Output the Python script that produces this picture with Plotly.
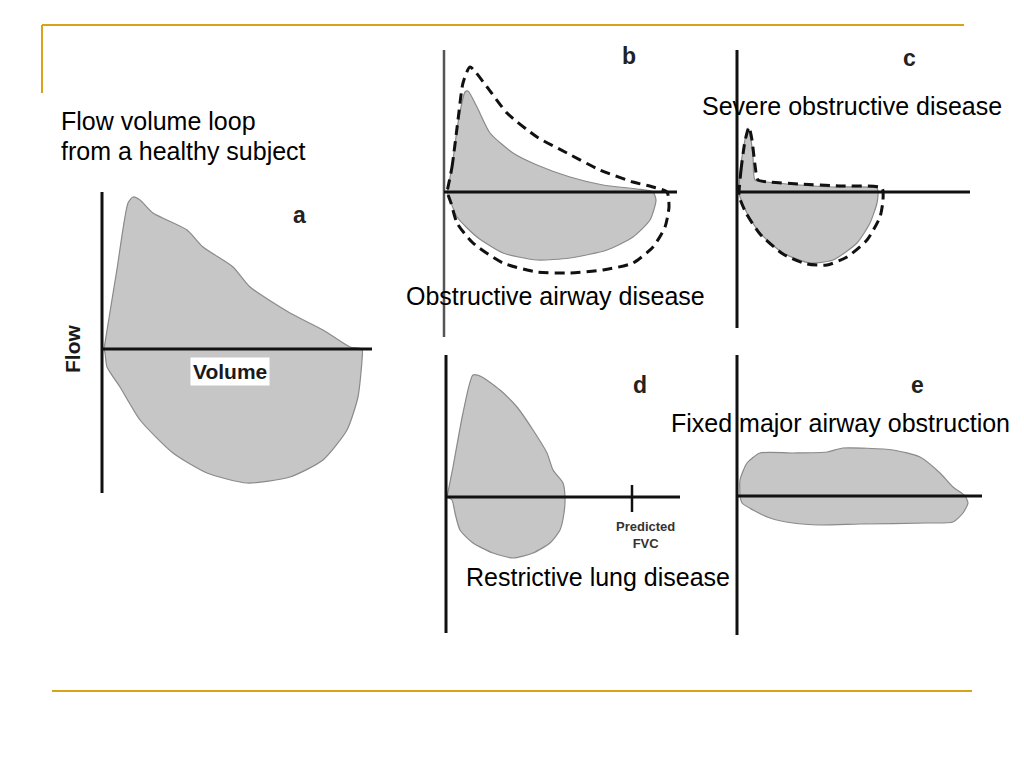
import plotly.graph_objects as go

W, H = 1024, 768
VOL_PX, FLOW_PX = 50.0, 20.0   # pixels per litre, pixels per L/s

# ---------------- data (volume in L, flow in L/s; expiration positive) -------------
# a: healthy subject
A_VOL = [0.04, 0.30, 0.52, 0.62, 0.76, 1.02, 1.70, 2.02, 2.62, 2.96, 3.76, 4.42, 4.96, 5.20,
         5.20, 5.12, 4.90, 4.42, 3.76, 2.90, 2.10, 1.42, 0.76, 0.36, 0.10, 0.06, 0.04]
A_FLOW = [0.0, 4.0, 7.3, 7.6, 7.45, 6.8, 5.95, 5.1, 4.1, 3.1, 1.8, 0.95, 0.1, 0.0,
          -0.55, -2.4, -4.05, -5.55, -6.4, -6.7, -6.2, -5.2, -3.55, -1.9, -0.9, -0.2, 0.0]
A_AXIS_VOL = [0.0, 5.4]
A_AXIS_FLOW = [-7.2, 7.85]

# b: obstructive airway disease (measured) and predicted (dashed)
B_VOL = [0.06, 0.16, 0.28, 0.42, 0.48, 0.66, 0.92, 1.38, 1.86, 2.52, 3.18, 3.86, 4.18,
         4.24, 4.12, 3.78, 3.26, 2.52, 1.86, 1.18, 0.66, 0.26, 0.12, 0.06]
B_FLOW = [0.0, 1.25, 3.45, 5.0, 5.05, 4.25, 2.95, 1.95, 1.35, 0.75, 0.35, 0.15, 0.0,
          -0.4, -1.4, -2.25, -2.9, -3.3, -3.4, -3.05, -2.25, -1.25, -0.4, 0.0]
B_PRED_VOL = [0.06, 0.16, 0.28, 0.38, 0.52, 0.86, 1.26, 1.86, 2.46, 3.12, 3.78, 4.18, 4.46,
              4.50, 4.42, 4.18, 3.78, 3.18, 2.52, 1.86, 1.18, 0.58, 0.26, 0.14, 0.06]
B_PRED_FLOW = [0.0, 1.25, 3.6, 5.45, 6.25, 5.25, 3.95, 2.75, 1.95, 1.1, 0.5, 0.25, 0.0,
               -0.75, -1.75, -2.75, -3.55, -3.9, -4.05, -4.0, -3.55, -2.55, -1.55, -0.55, 0.0]
B_AXIS_VOL = [0.0, 4.66]
B_AXIS_FLOW = [-7.25, 7.1]

# c: severe obstructive disease
C_VOL = [0.04, 0.06, 0.14, 0.22, 0.28, 0.32, 0.36, 0.60, 1.26, 1.92, 2.80, 2.82,
         2.80, 2.66, 2.40, 1.92, 1.46, 0.92, 0.46, 0.20, 0.06, 0.04]
C_FLOW = [0.0, 0.95, 2.35, 3.2, 2.6, 1.75, 0.6, 0.5, 0.35, 0.25, 0.2, 0.0,
          -0.55, -1.55, -2.55, -3.4, -3.55, -3.05, -2.05, -1.05, -0.25, 0.0]
C_PRED_VOL = [0.04, 0.08, 0.16, 0.24, 0.30, 0.36, 0.42, 0.66, 1.26, 2.06, 2.90,
              2.92, 2.86, 2.60, 2.20, 1.80, 1.40, 0.92, 0.46, 0.18, 0.04]
C_PRED_FLOW = [0.0, 1.1, 2.55, 3.25, 2.6, 1.35, 0.6, 0.5, 0.4, 0.3, 0.2,
               -0.4, -1.25, -2.4, -3.25, -3.65, -3.6, -3.1, -2.1, -1.05, -0.2]
C_AXIS_VOL = [0.0, 4.66]
C_AXIS_FLOW = [-6.8, 7.1]

# d: restrictive lung disease
D_VOL = [0.02, 0.14, 0.34, 0.54, 0.72, 1.08, 1.42, 1.74, 2.02, 2.14, 2.34, 2.38,
         2.36, 2.28, 2.08, 1.74, 1.34, 0.94, 0.54, 0.28, 0.18, 0.12, 0.02]
D_FLOW = [0.0, 1.5, 4.2, 6.1, 6.0, 5.35, 4.5, 3.35, 2.2, 1.35, 0.7, 0.0,
          -0.8, -1.65, -2.3, -2.8, -3.05, -2.8, -2.3, -1.65, -0.8, -0.15, 0.0]
D_AXIS_VOL = [0.0, 4.68]
D_AXIS_FLOW = [-6.8, 7.1]
D_PREDICTED_FVC = 3.72
D_TICK_FLOW = [-0.75, 0.6]

# e: fixed major airway obstruction
E_VOL = [0.06, 0.06, 0.20, 0.46, 1.12, 1.80, 2.12, 3.12, 3.66, 4.06, 4.32, 4.56,
         4.62, 4.52, 4.32, 3.80, 2.46, 1.66, 1.12, 0.66, 0.32, 0.10, 0.06]
E_FLOW = [0.0, 0.8, 1.65, 2.15, 2.15, 2.2, 2.4, 2.3, 1.95, 1.15, 0.45, 0.0,
          -0.35, -0.85, -1.3, -1.35, -1.4, -1.45, -1.35, -1.1, -0.7, -0.35, 0.0]
E_AXIS_VOL = [0.0, 4.9]
E_AXIS_FLOW = [-6.95, 7.05]

# ---------------- layout geometry (pixels) ----------------
PANELS = [
    # key, origin(px), box(x0, x1, y0, y1)
    ("a", (102, 349), (40, 400, 180, 510)),
    ("b", (444, 192), (425, 700, 40, 345)),
    ("c", (737, 192), (718, 1010, 40, 340)),
    ("d", (446, 497), (425, 700, 345, 645)),
    ("e", (737, 496), (718, 1010, 345, 645)),
]

FILL = "#c6c6c6"
EDGE = "#8a8a8a"
SMOOTH = 0.6

fig = go.Figure()
layout = dict(width=W, height=H, margin=dict(l=0, r=0, t=0, b=0),
              paper_bgcolor="white", plot_bgcolor="rgba(0,0,0,0)",
              showlegend=False, hovermode=False)

axref = {}
for i, (key, (ox, oy), (x0, x1, y0, y1)) in enumerate(PANELS, start=1):
    sfx = "" if i == 1 else str(i)
    layout["xaxis" + sfx] = dict(domain=[x0 / W, x1 / W],
                                 range=[(x0 - ox) / VOL_PX, (x1 - ox) / VOL_PX],
                                 visible=False, fixedrange=True,
                                 anchor="y" + sfx)
    layout["yaxis" + sfx] = dict(domain=[1 - y1 / H, 1 - y0 / H],
                                 range=[(oy - y1) / FLOW_PX, (oy - y0) / FLOW_PX],
                                 visible=False, fixedrange=True,
                                 anchor="x" + sfx)
    axref[key] = ("x" + sfx, "y" + sfx)


def loop(key, v, f):
    xa, ya = axref[key]
    fig.add_trace(go.Scatter(x=v + [v[0]], y=f + [f[0]], mode="lines", fill="toself",
                             fillcolor=FILL,
                             line=dict(color=EDGE, width=1.2, shape="spline", smoothing=SMOOTH),
                             xaxis=xa, yaxis=ya))


def dashed(key, v, f):
    xa, ya = axref[key]
    fig.add_trace(go.Scatter(x=v + [v[0]], y=f + [f[0]], mode="lines",
                             line=dict(color="#111111", width=3, dash="10px,6px",
                                       shape="spline", smoothing=SMOOTH),
                             xaxis=xa, yaxis=ya))


def frame(key, vrange, frange, vcolor="#111111", vwidth=3):
    xa, ya = axref[key]
    fig.add_trace(go.Scatter(x=[0, 0], y=frange, mode="lines",
                             line=dict(color=vcolor, width=vwidth), xaxis=xa, yaxis=ya))
    fig.add_trace(go.Scatter(x=vrange, y=[0, 0], mode="lines",
                             line=dict(color="#111111", width=3), xaxis=xa, yaxis=ya))


loop("a", A_VOL, A_FLOW)
frame("a", A_AXIS_VOL, A_AXIS_FLOW)

loop("b", B_VOL, B_FLOW)
frame("b", B_AXIS_VOL, B_AXIS_FLOW, vcolor="#555555", vwidth=2.5)
dashed("b", B_PRED_VOL, B_PRED_FLOW)

loop("c", C_VOL, C_FLOW)
frame("c", C_AXIS_VOL, C_AXIS_FLOW)
dashed("c", C_PRED_VOL, C_PRED_FLOW)

loop("d", D_VOL, D_FLOW)
frame("d", D_AXIS_VOL, D_AXIS_FLOW)
xa, ya = axref["d"]
fig.add_trace(go.Scatter(x=[D_PREDICTED_FVC, D_PREDICTED_FVC], y=D_TICK_FLOW, mode="lines",
                         line=dict(color="#111111", width=2.5), xaxis=xa, yaxis=ya))

loop("e", E_VOL, E_FLOW)
frame("e", E_AXIS_VOL, E_AXIS_FLOW)


# ---------------- texts ----------------
def px(x, y):
    return x / W, 1 - y / H


annots = []


def text(t, x, y, size, bold=False, color="#111111", xanchor="center", angle=0, bg=None,
         family="Liberation Sans, Arial, sans-serif"):
    X, Y = px(x, y)
    d = dict(text=("<b>%s</b>" % t) if bold else t, x=X, y=Y, xref="paper", yref="paper",
             showarrow=False, xanchor=xanchor, yanchor="middle", textangle=angle,
             font=dict(size=size, color=color, family=family))
    if bg:
        d.update(bgcolor=bg, borderpad=2)
    annots.append(d)


text("Flow volume loop", 59, 121, 25, xanchor="left", color="#000000")
text("from a healthy subject", 59, 151, 25, xanchor="left", color="#000000")
text("Obstructive airway disease", 555, 296, 25, color="#000000")
text("Severe obstructive disease", 852, 106, 25, color="#000000")
text("Restrictive lung disease", 598, 577, 25, color="#000000")
text("Fixed major airway obstruction", 840, 423, 25, color="#000000")

text("a", 299, 215, 23, bold=True, color="#222222")
text("b", 629, 56, 23, bold=True, color="#222222")
text("c", 909, 58, 23, bold=True, color="#222222")
text("d", 640, 385, 23, bold=True, color="#222222")
text("e", 917, 385, 23, bold=True, color="#222222")

text("Flow", 73, 349, 21, bold=True, angle=-90, color="#1a1a1a")
text("Volume", 230, 371, 21, bold=True, bg="white", color="#1a1a1a")
text("Predicted<br>FVC", 645, 535, 13, bold=True, color="#333333")

layout["annotations"] = annots

GOLD = "#D8A31A"
layout["shapes"] = [
    dict(type="line", xref="paper", yref="paper", x0=42 / W, x1=964 / W,
         y0=1 - 25 / H, y1=1 - 25 / H, line=dict(color=GOLD, width=2)),
    dict(type="line", xref="paper", yref="paper", x0=42 / W, x1=42 / W,
         y0=1 - 25 / H, y1=1 - 93 / H, line=dict(color=GOLD, width=2)),
    dict(type="line", xref="paper", yref="paper", x0=52 / W, x1=972 / W,
         y0=1 - 691 / H, y1=1 - 691 / H, line=dict(color=GOLD, width=2)),
]

fig.update_layout(**layout)
fig.write_html("out.html", config={"displayModeBar": False, "staticPlot": True},
               post_script="document.body.style.margin='0';")
